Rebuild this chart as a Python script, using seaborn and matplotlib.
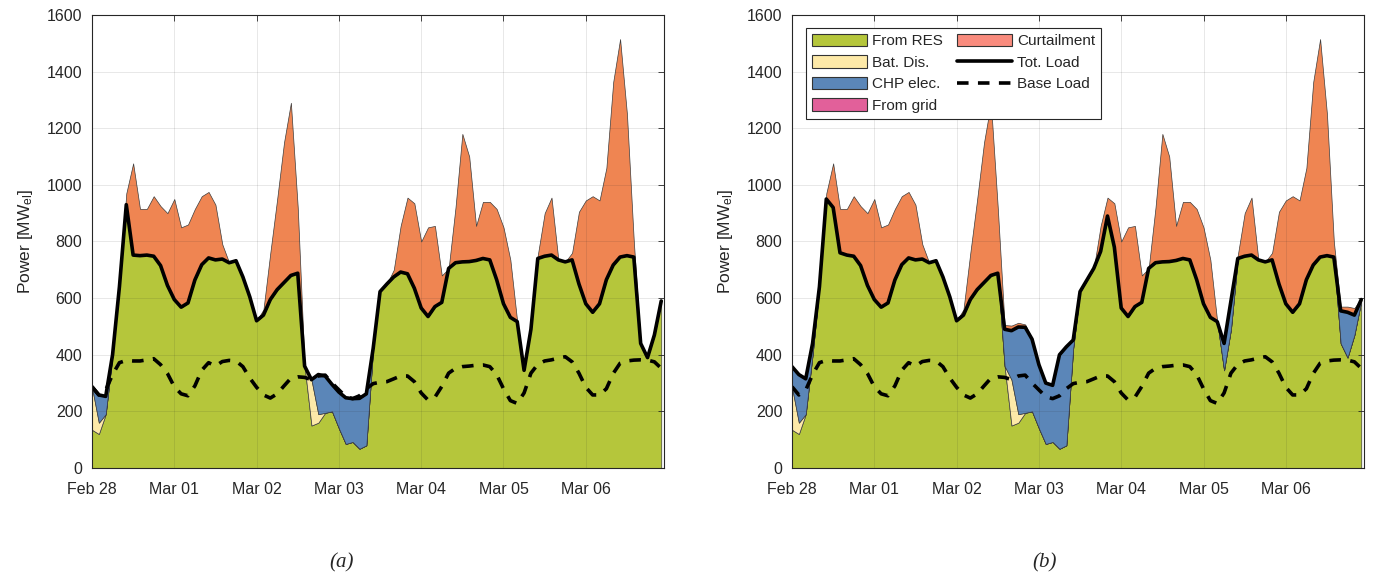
import numpy as np
import pandas as pd
import matplotlib
matplotlib.use("Agg")
import matplotlib.pyplot as plt
from matplotlib.patches import Patch
from matplotlib.lines import Line2D
import seaborn as sns

# Two-hourly time stamps over one week
times = pd.date_range("2021-02-28 00:00", periods=84, freq="2h")

# ---------- Case (a) ----------
a_load = [287, 258, 253, 400, 640, 930, 752, 750, 752, 748, 715, 645,
          595, 568, 583, 664, 718, 742, 735, 738, 725, 732, 675, 605,
          520, 540, 595, 630, 655, 680, 688, 360, 312, 330, 325, 295,
          268, 248, 245, 246, 262, 423, 623, 650, 675, 692, 686, 635,
          565, 535, 570, 585, 705, 725, 728, 729, 733, 740, 735, 665,
          580, 532, 517, 345, 490, 740, 748, 752, 735, 728, 735, 650,
          580, 550, 580, 665, 717, 745, 750, 745, 440, 390, 470, 590]
a_res = [135, 120, 190, 400, 640, 930, 752, 750, 752, 748, 715, 645,
         595, 568, 583, 664, 718, 742, 735, 738, 725, 732, 675, 605,
         520, 540, 595, 630, 655, 680, 688, 360, 150, 160, 195, 200,
         140, 85, 92, 68, 80, 423, 623, 650, 675, 692, 686, 635,
         565, 535, 570, 585, 705, 725, 728, 729, 733, 740, 735, 665,
         580, 532, 517, 345, 490, 740, 748, 752, 735, 728, 735, 650,
         580, 550, 580, 665, 717, 745, 750, 745, 440, 390, 470, 590]
a_bat = [150, 40, 0, 0, 0, 0, 0, 0, 0, 0, 0, 0,
         0, 0, 0, 0, 0, 0, 0, 0, 0, 0, 0, 0,
         0, 0, 0, 0, 0, 0, 0, 0, 162, 30, 0, 0,
         0, 0, 0, 0, 0, 0, 0, 0, 0, 0, 0, 0,
         0, 0, 0, 0, 0, 0, 0, 0, 0, 0, 0, 0,
         0, 0, 0, 0, 0, 0, 0, 0, 0, 0, 0, 0,
         0, 0, 0, 0, 0, 0, 0, 0, 0, 0, 0, 0]
a_chp = [2, 98, 63, 0, 0, 0, 0, 0, 0, 0, 0, 0,
         0, 0, 0, 0, 0, 0, 0, 0, 0, 0, 0, 0,
         0, 0, 0, 0, 0, 0, 0, 0, 0, 140, 130, 95,
         128, 163, 153, 178, 182, 0, 0, 0, 0, 0, 0, 0,
         0, 0, 0, 0, 0, 0, 0, 0, 0, 0, 0, 0,
         0, 0, 0, 0, 0, 0, 0, 0, 0, 0, 0, 0,
         0, 0, 0, 0, 0, 0, 0, 0, 0, 0, 0, 0]
a_grid = [0] * 84
a_curt = [0, 0, 0, 0, 0, 40, 324, 165, 163, 212, 210, 255,
          355, 282, 277, 251, 242, 233, 195, 52, 0, 0, 0, 0,
          0, 20, 165, 320, 495, 610, 232, 0, 0, 0, 0, 0,
          0, 0, 0, 0, 0, 0, 0, 0, 25, 163, 269, 300,
          235, 315, 285, 95, 0, 195, 452, 371, 122, 200, 205, 250,
          270, 203, 0, 0, 0, 12, 152, 203, 0, 0, 25, 255,
          365, 410, 365, 395, 647, 770, 500, 55, 0, 0, 0, 0]

# ---------- Case (b) ----------
b_load = [358, 330, 315, 440, 640, 950, 920, 760, 752, 748, 715, 645,
          595, 568, 583, 664, 718, 742, 735, 738, 725, 732, 675, 605,
          520, 540, 595, 630, 655, 680, 688, 490, 485, 498, 497, 455,
          365, 300, 292, 400, 428, 452, 623, 664, 705, 765, 890, 780,
          565, 535, 570, 585, 705, 725, 728, 729, 733, 740, 735, 665,
          580, 532, 517, 440, 590, 740, 748, 752, 735, 728, 735, 650,
          580, 550, 580, 665, 717, 745, 750, 745, 555, 550, 540, 595]
b_res = [135, 120, 190, 400, 640, 950, 920, 760, 752, 748, 715, 645,
         595, 568, 583, 664, 718, 742, 735, 738, 725, 732, 675, 605,
         520, 540, 595, 630, 655, 680, 688, 360, 150, 160, 195, 200,
         140, 85, 92, 68, 80, 423, 623, 664, 705, 765, 890, 780,
         565, 535, 570, 585, 705, 725, 728, 729, 733, 740, 735, 665,
         580, 532, 517, 345, 490, 740, 748, 752, 735, 728, 735, 650,
         580, 550, 580, 665, 717, 745, 750, 745, 440, 390, 470, 590]
b_bat = list(a_bat)
b_chp = [73, 170, 125, 40, 0, 0, 0, 0, 0, 0, 0, 0,
         0, 0, 0, 0, 0, 0, 0, 0, 0, 0, 0, 0,
         0, 0, 0, 0, 0, 0, 0, 130, 173, 308, 302, 255,
         225, 215, 200, 332, 348, 29, 0, 0, 0, 0, 0, 0,
         0, 0, 0, 0, 0, 0, 0, 0, 0, 0, 0, 0,
         0, 0, 0, 95, 100, 0, 0, 0, 0, 0, 0, 0,
         0, 0, 0, 0, 0, 0, 0, 0, 115, 160, 70, 5]
b_grid = [0] * 84
b_curt = [0, 0, 0, 0, 0, 20, 156, 155, 163, 212, 210, 255,
          355, 282, 277, 251, 242, 233, 195, 52, 0, 0, 0, 0,
          0, 20, 165, 320, 495, 610, 232, 15, 18, 15, 10, 0,
          0, 0, 0, 0, 0, 0, 0, 0, 0, 90, 65, 155,
          235, 315, 285, 95, 0, 195, 452, 371, 122, 200, 205, 250,
          270, 203, 0, 0, 0, 12, 152, 203, 0, 0, 25, 255,
          365, 410, 365, 395, 647, 770, 500, 55, 15, 20, 25, 5]

# Base load shared by both cases
base_load = [287, 258, 275, 330, 372, 380, 378, 378, 382, 386, 365, 334,
             287, 262, 255, 290, 345, 372, 360, 376, 380, 378, 358, 318,
             285, 258, 247, 262, 290, 317, 322, 320, 312, 325, 328, 300,
             276, 252, 245, 255, 280, 298, 303, 305, 315, 325, 325, 305,
             265, 240, 250, 288, 335, 352, 358, 360, 363, 364, 358, 330,
             280, 238, 228, 265, 335, 366, 378, 382, 388, 393, 375, 335,
             285, 258, 258, 280, 334, 370, 378, 381, 382, 381, 375, 352]

series_names = ["From RES", "Bat. Dis.", "CHP elec.", "From grid", "Curtailment"]
area_colors = ["#b5c63b", "#fde9a8", "#5b86b8", "#e2609a", "#ef8552"]
legend_colors = ["#b5c63b", "#fde9a8", "#5b86b8", "#e2609a", "#f98b7d"]
day_labels = ["Feb 28", "Mar 01", "Mar 02", "Mar 03", "Mar 04", "Mar 05", "Mar 06"]

sns.set_theme(style="whitegrid")
plt.rcParams["font.family"] = ["Liberation Sans", "DejaVu Sans"]
plt.rcParams["mathtext.default"] = "regular"

fig = plt.figure(figsize=(13.75, 5.81), dpi=100)
ax_a = fig.add_axes([0.0669, 0.1945, 0.416, 0.7797])
ax_b = fig.add_axes([0.576, 0.1945, 0.416, 0.7797])

t0 = times[0]
t_end = t0 + pd.Timedelta(hours=166.8)


def draw(ax, res, bat, chp, grid, curt, load):
    ax.stackplot(times, res, bat, chp, grid, curt, colors=area_colors,
                 edgecolor="#3c3c3c", linewidth=0.5, zorder=1)
    sns.lineplot(x=times, y=base_load, ax=ax, color="black", lw=2.6,
                 linestyle=(0, (3.2, 2.6)), zorder=4)
    sns.lineplot(x=times, y=load, ax=ax, color="black", lw=2.6, zorder=5)
    ax.set_xlim(t0, t_end)
    ax.set_ylim(0, 1600)
    ax.set_yticks(np.arange(0, 1601, 200))
    ticks = [t0 + pd.Timedelta(days=i) for i in range(7)]
    ax.set_xticks(ticks)
    ax.set_xticklabels(day_labels)
    ax.set_axisbelow(False)
    ax.grid(True, color="#262626", alpha=0.11, lw=0.7, zorder=3)
    for s in ax.spines.values():
        s.set_visible(True)
        s.set_color("#262626")
        s.set_linewidth(0.8)
        s.set_zorder(6)
    ax.tick_params(axis="both", which="both", direction="in", length=4,
                   width=0.6, color="#262626", labelsize=11.5,
                   labelcolor="#262626", top=True, right=True)
    ax.tick_params(axis="y", pad=7)
    ax.tick_params(axis="x", pad=10)
    ax.set_ylabel("Power [MW$_{el}$]", fontsize=12.5, color="#262626")
    ax.yaxis.set_label_coords(-0.1, 0.5)
    ax.set_xlabel("")
    ax.set_facecolor("white")


draw(ax_a, a_res, a_bat, a_chp, a_grid, a_curt, a_load)
draw(ax_b, b_res, b_bat, b_chp, b_grid, b_curt, b_load)

handles = [Patch(facecolor=c, edgecolor="#333333", lw=0.8) for c in legend_colors[:4]]
handles += [Patch(facecolor=legend_colors[4], edgecolor="#333333", lw=0.8),
            Line2D([], [], color="black", lw=2.6),
            Line2D([], [], color="black", lw=2.6, linestyle=(0, (3.2, 2.6)))]
labels = series_names[:4] + ["Curtailment", "Tot. Load", "Base Load"]
leg = ax_b.legend(handles, labels, ncol=2, loc="upper left",
                  bbox_to_anchor=(0.024, 0.972), borderaxespad=0,
                  fontsize=11, frameon=True, fancybox=False, framealpha=1,
                  edgecolor="#262626", handlelength=3.6, handleheight=0.9,
                  handletextpad=0.35, labelspacing=0.45, columnspacing=0.9,
                  borderpad=0.4)
leg.get_frame().set_linewidth(0.8)
leg.set_zorder(10)

for x, lab in [(0.2487, "(a)"), (0.760, "(b)")]:
    fig.text(x, 0.031, lab, ha="center", va="center", fontsize=15,
             family="Liberation Serif", style="italic")

fig.savefig("out.png", dpi=100, facecolor="white")
